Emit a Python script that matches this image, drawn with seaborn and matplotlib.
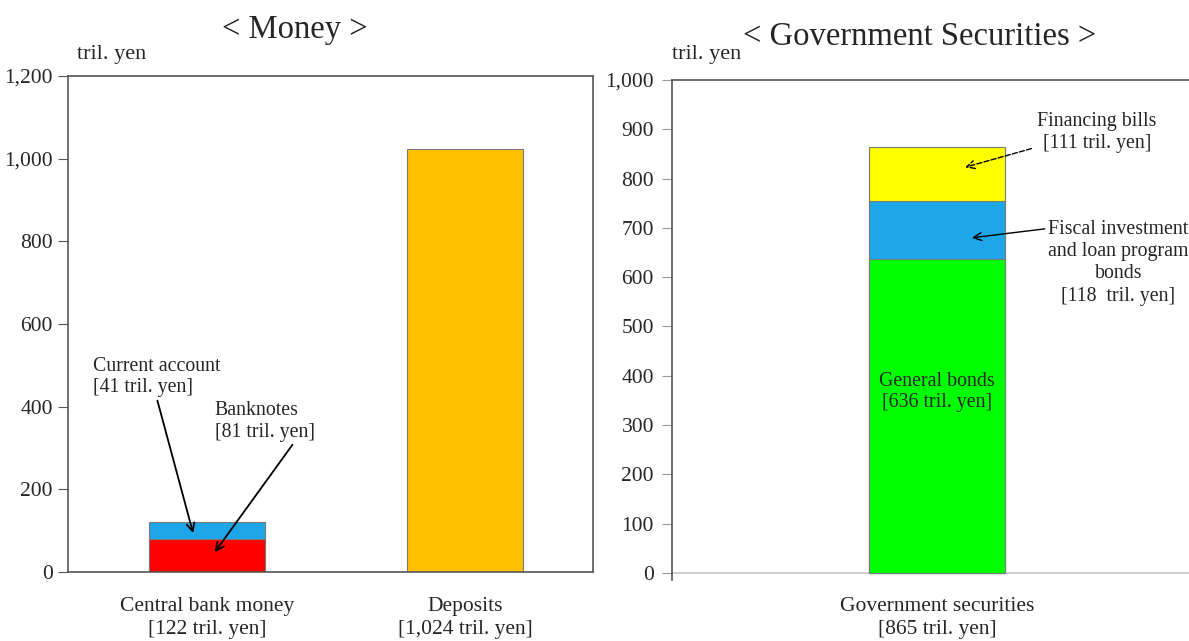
import matplotlib
matplotlib.use("Agg")
import matplotlib.pyplot as plt
import matplotlib.ticker as mticker
import seaborn as sns
import numpy as np

sns.set_style("white")
plt.rcParams['font.family'] = ['Liberation Serif', 'DejaVu Serif']

# ---- data ----
money_categories = ["Central bank money", "Deposits"]
money_labels = ["Central bank money\n[122 tril. yen]", "Deposits\n[1,024 tril. yen]"]
money_totals = [122, 1024]          # current account + banknotes ; deposits
banknotes = [81]                    # lower segment of central bank money
current_account = [41]

gov_categories = ["Government securities"]
gov_labels = ["Government securities\n[865 tril. yen]"]
general_bonds = [636]
filp_bonds = [118]
financing_bills = [111]

c_blue = "#1EA7E8"
c_red = "#FF0000"
c_orange = "#FFC000"
c_green = "#00FF00"
c_yellow = "#FFFF00"
edge = "#7a7a7a"

fig = plt.figure(figsize=(11.89, 6.41), dpi=100)
ax1 = fig.add_axes([68/1189, 1-572/641, 525/1189, 496/641])
ax2 = fig.add_axes([672/1189, 1-580/641, 530/1189, 500/641])

# ---- left panel: Money ----
sns.barplot(x=money_categories, y=money_totals, order=money_categories,
            palette=[c_blue, c_orange], hue=money_categories, legend=False,
            saturation=1, width=0.45, edgecolor=edge, linewidth=0.8, ax=ax1)
sns.barplot(x=money_categories[:1], y=banknotes, order=money_categories,
            color=c_red, width=0.45, edgecolor=edge, linewidth=0.8, ax=ax1,
            saturation=1)
ax1.set_xlim(-0.539, 1.496)
ax1.set_ylim(0, 1200)
ax1.set_yticks(np.arange(0, 1201, 200))
ax1.yaxis.set_major_formatter(mticker.StrMethodFormatter("{x:,.0f}"))
ax1.set_xticks([0, 1])
ax1.set_xticklabels(money_labels, fontsize=15.5, linespacing=1.3)
ax1.set_xticks([0.5], minor=True)
ax1.tick_params(axis='x', which='major', length=0, pad=18)
ax1.tick_params(axis='x', which='minor', length=6, direction='in', color='#555555', width=1)
ax1.tick_params(axis='y', length=7, direction='out', color='#555555', labelsize=15.5, left=True, pad=4)
for s in ax1.spines.values():
    s.set_color('#555555'); s.set_linewidth(1.2); s.set_visible(True)
ax1.set_xlabel(""); ax1.set_ylabel("")

ax1.annotate("Current account\n[41 tril. yen]", xy=(-0.054, 94), xytext=(-0.443, 472),
             ha='left', va='center', fontsize=14.3, linespacing=1.2,
             arrowprops=dict(arrowstyle='->', color='black', lw=1.3, shrinkA=0, shrinkB=0,
                             relpos=(0.5, 0.0)))
ax1.annotate("Banknotes\n[81 tril. yen]", xy=(0.03, 48), xytext=(0.03, 365),
             ha='left', va='center', fontsize=14.3, linespacing=1.2,
             arrowprops=dict(arrowstyle='->', color='black', lw=1.3, shrinkA=0, shrinkB=0,
                             relpos=(0.8, 0.0)))

# ---- right panel: Government Securities ----
sns.barplot(x=gov_categories, y=[general_bonds[0] + filp_bonds[0] + financing_bills[0]],
            color=c_yellow, saturation=1, width=0.255, edgecolor=edge, linewidth=0.8, ax=ax2)
sns.barplot(x=gov_categories, y=[general_bonds[0] + filp_bonds[0]],
            color=c_blue, saturation=1, width=0.255, edgecolor=edge, linewidth=0.8, ax=ax2)
sns.barplot(x=gov_categories, y=general_bonds,
            color=c_green, saturation=1, width=0.255, edgecolor=edge, linewidth=0.8, ax=ax2)
ax2.set_xlim(-0.5, 0.5)
ax2.set_ylim(-14.2, 1000)
ax2.set_yticks(np.arange(0, 1001, 100))
ax2.yaxis.set_major_formatter(mticker.StrMethodFormatter("{x:,.0f}"))
ax2.set_xticks([0])
ax2.set_xticklabels(gov_labels, fontsize=15.5, linespacing=1.3)
ax2.tick_params(axis='x', length=0, pad=12)
ax2.tick_params(axis='y', length=7, direction='out', color='#999999', labelsize=15.5, left=True, pad=6)
ax2.axhline(0, color='#d0d0d0', lw=1.5, zorder=0)
ax2.spines['bottom'].set_visible(False)
ax2.spines['right'].set_visible(False)
ax2.spines['top'].set_visible(True)
ax2.spines['top'].set_color('#555555'); ax2.spines['top'].set_linewidth(1.2)
ax2.spines['left'].set_visible(True)
ax2.spines['left'].set_color('#555555'); ax2.spines['left'].set_linewidth(1.2)
ax2.set_xlabel(""); ax2.set_ylabel("")

ax2.text(0, 367, "General bonds\n[636 tril. yen]", ha='center', va='center',
         fontsize=14.3, linespacing=1.2)
ax2.annotate("Financing bills\n[111 tril. yen]", xy=(0.053, 823), xytext=(0.302, 894),
             ha='center', va='center', fontsize=14.3, linespacing=1.2,
             arrowprops=dict(arrowstyle='->', color='black', lw=1.0, ls='--',
                             shrinkA=0, shrinkB=0, relpos=(-0.05, 0.1)))
ax2.annotate("Fiscal investment\nand loan program\nbonds\n[118  tril. yen]",
             xy=(0.066, 680), xytext=(0.342, 629),
             ha='center', va='center', fontsize=14.3, linespacing=1.22,
             arrowprops=dict(arrowstyle='->', color='black', lw=1.0,
                             shrinkA=0, shrinkB=0, relpos=(-0.02, 0.9)))

# ---- titles & units ----
fig.text(295/1189, 1-30/641, "< Money >", ha='center', va='center', fontsize=23.5)
fig.text(920/1189, 1-37/641, "< Government Securities >", ha='center', va='center', fontsize=23.5)
fig.text(77/1189, 1-55/641, "tril. yen", ha='left', va='center', fontsize=16)
fig.text(672/1189, 1-55/641, "tril. yen", ha='left', va='center', fontsize=16)

fig.savefig("out.png", dpi=100)
